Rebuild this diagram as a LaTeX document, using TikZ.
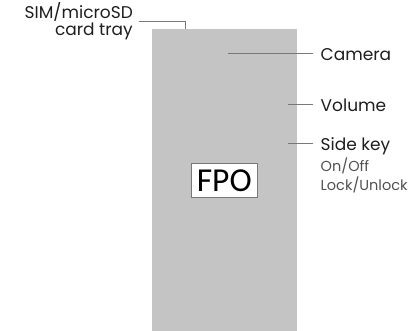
\documentclass[tikz,border=0pt]{standalone}
\usepackage{fontspec}
\setmainfont{Poppins}
\newfontfamily\fpofont{Carlito}
\usetikzlibrary{positioning}
\definecolor{phonegray}{RGB}{196,196,196}
\definecolor{linegray}{RGB}{120,120,120}
\definecolor{labelblack}{RGB}{30,30,30}
\definecolor{notegray}{RGB}{80,80,80}

\begin{document}
\begin{tikzpicture}[
		x=1pt,
		y=-1pt,
		phone/.style={fill=phonegray, draw=none, inner sep=0pt, outer sep=0pt},
		callout/.style={draw=linegray, line width=0.7pt},
		label font/.style={font=\fontsize{17}{14}\selectfont, text=labelblack},
		part label/.style={label font, inner xsep=7.5pt, inner ysep=0pt, text height=13pt, text depth=0pt},
		note label/.style={font=\fontsize{14.5}{16}\selectfont, text=notegray, inner sep=0pt},
		fpo box/.style={fill=white, draw=linegray, line width=0.6pt, font=\fpofont\fontsize{33.5}{34}\selectfont, text=black, inner xsep=5.8pt, inner ysep=6.2pt, text height=22pt, text depth=0pt}
		]
		\useasboundingbox (0,0) rectangle (409,330);
		
		\node[phone, minimum width=145pt, minimum height=302pt, anchor=north west] (phone) at (152,28.5) {};
		\node[fpo box] (fpo) at (224.3,180.5) {FPO};
		
		\coordinate (sim) at (185.5,28.5);
		\coordinate (cam) at (228,53.5);
		\coordinate (vol) at (288,104.7);
		\coordinate (key) at (288,143.7);
		
		\node[label font, align=right, anchor=east, inner xsep=5.5pt] (simlabel) at (138.5,21.3) {SIM/microSD\\card tray};
		\node[part label, anchor=west] (camera) at (313,53.5) {Camera};
		\node[part label, anchor=west] (volume) at (313,104.7) {Volume};
		\node[part label, anchor=west] (sidekey) at (313,143.7) {Side key};
		\node[note label, anchor=base west] (onoff) at ([xshift=7.5pt, yshift=-21.7pt]sidekey.base west) {On/Off};
		\node[note label, anchor=base west] (lock) at ([yshift=-19pt]onoff.base west) {Lock/Unlock};
		
		\draw[callout] (sim) |- (simlabel.east);
		\draw[callout] (cam) -- (camera.west);
		\draw[callout] (vol) -- (volume.west);
		\draw[callout] (key) -- (sidekey.west);
	\end{tikzpicture}
\end{document}
